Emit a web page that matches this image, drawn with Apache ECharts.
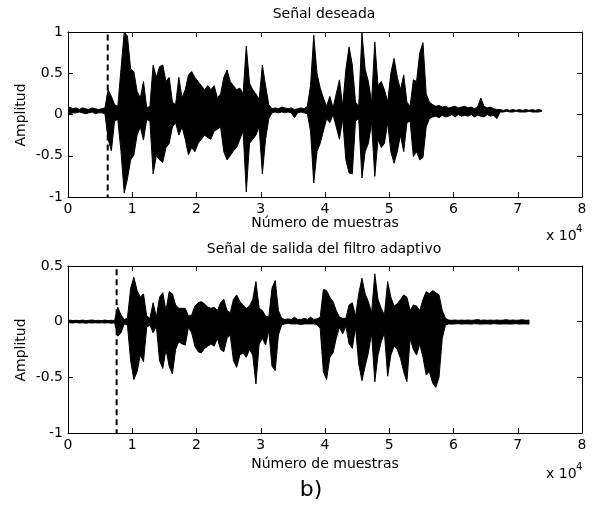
<!DOCTYPE html>
<html>
<head>
<meta charset="utf-8">
<script src="https://cdn.jsdelivr.net/npm/echarts@6/dist/echarts.min.js"></script>
<style>
  html, body { margin: 0; padding: 0; background: #ffffff; }
  #chart { width: 592px; height: 508px; }
</style>
</head>
<body>
<div id="chart"></div>
<script>
// Waveforms are stored as per-bin envelopes: each bin spans 500 samples,
// and holds the highest and lowest amplitude reached inside it.
const binSize = 500;

const xTickValues = [0, 10000, 20000, 30000, 40000, 50000, 60000, 70000, 80000];
const yTicksDesired = [-1, -0.5, 0, 0.5, 1];
const yTicksOutput = [-1, -0.5, 0, 0.5];

// "Señal deseada" envelope
const desiredHigh = [
  0.09, 0.07, 0.08, 0.06, 0.08, 0.07, 0.06, 0.08, 0.07, 0.06,
  0.07, 0.08, 0.30, 0.22, 0.12, 0.10, 0.55, 1.00, 0.95, 0.55,
  0.52, 0.28, 0.20, 0.40, 0.08, 0.10, 0.60, 0.45, 0.58, 0.60,
  0.40, 0.45, 0.15, 0.12, 0.45, 0.20, 0.30, 0.48, 0.52, 0.45,
  0.40, 0.35, 0.30, 0.35, 0.30, 0.35, 0.20, 0.25, 0.45, 0.54,
  0.40, 0.35, 0.30, 0.32, 0.25, 0.83, 0.38, 0.30, 0.25, 0.18,
  0.60, 0.35, 0.12, 0.07, 0.08, 0.07, 0.09, 0.08, 0.07, 0.08,
  0.06, 0.07, 0.08, 0.07, 0.10, 0.35, 0.96, 0.50, 0.32, 0.20,
  0.10, 0.22, 0.08, 0.25, 0.42, 0.10, 0.55, 0.82, 0.60, 0.15,
  0.10, 0.99, 0.55, 0.40, 0.15, 0.88, 0.35, 0.40, 0.30, 0.15,
  0.50, 0.68, 0.45, 0.30, 0.48, 0.15, 0.10, 0.42, 0.40, 0.75,
  0.87, 0.25, 0.15, 0.12, 0.10, 0.11, 0.09, 0.10, 0.08, 0.09,
  0.10, 0.08, 0.09, 0.10, 0.08, 0.09, 0.07, 0.09, 0.20, 0.10,
  0.08, 0.09, 0.07, 0.06, 0.06, 0.05, 0.06, 0.05, 0.06, 0.05,
  0.06, 0.05, 0.06, 0.05, 0.06, 0.05, 0.06, 0.05
];
const desiredLow = [
  0.01, 0.02, 0.02, 0.03, 0.02, 0.01, 0.02, 0.03, 0.01, 0.02,
  0.02, 0.01, -0.30, -0.44, -0.08, -0.06, -0.45, -0.95, -0.78, -0.55,
  -0.49, -0.25, -0.15, -0.31, -0.06, -0.08, -0.72, -0.50, -0.55, -0.58,
  -0.40, -0.35, -0.15, -0.10, -0.25, -0.15, -0.30, -0.49, -0.40, -0.45,
  -0.35, -0.30, -0.25, -0.28, -0.30, -0.20, -0.18, -0.15, -0.45, -0.55,
  -0.50, -0.44, -0.40, -0.30, -0.20, -0.94, -0.35, -0.30, -0.25, -0.15,
  -0.72, -0.30, -0.05, 0.02, 0.03, 0.02, 0.03, 0.02, 0.03, 0.02,
  -0.04, 0.02, 0.03, 0.02, 0.01, -0.20, -0.83, -0.45, -0.35, -0.20,
  -0.05, -0.10, 0.00, -0.15, -0.30, -0.05, -0.55, -0.71, -0.72, -0.08,
  -0.05, -0.77, -0.45, -0.35, -0.10, -0.75, -0.30, -0.40, -0.35, -0.10,
  -0.45, -0.59, -0.45, -0.25, -0.45, -0.10, -0.08, -0.51, -0.45, -0.55,
  -0.52, -0.15, -0.05, -0.03, -0.02, -0.04, -0.01, -0.03, -0.02, 0.00,
  -0.03, 0.00, -0.02, -0.01, -0.02, 0.00, -0.03, -0.01, -0.02, -0.03,
  0.00, -0.02, -0.01, -0.05, 0.03, 0.03, 0.04, 0.03, 0.03, 0.04,
  0.03, 0.03, 0.03, 0.04, 0.03, 0.03, 0.03, 0.04
];

// "Señal de salida del filtro adaptivo" envelope
const outputHigh = [
  0.015, 0.010, 0.012, 0.010, 0.014, 0.010, 0.012, 0.015, 0.010, 0.012,
  0.010, 0.014, 0.010, 0.012, 0.010, 0.13, 0.06, 0.02, 0.03, 0.30,
  0.40, 0.28, 0.22, 0.25, 0.05, 0.03, 0.17, 0.04, 0.22, 0.26,
  0.10, 0.27, 0.25, 0.15, 0.12, 0.12, 0.12, 0.05, 0.06, 0.14,
  0.17, 0.18, 0.16, 0.13, 0.12, 0.13, 0.10, 0.17, 0.20, 0.10,
  0.08, 0.20, 0.24, 0.18, 0.15, 0.12, 0.14, 0.20, 0.36, 0.12,
  0.10, 0.05, 0.04, 0.30, 0.37, 0.10, 0.03, 0.020, 0.025, 0.020,
  0.040, 0.020, 0.020, 0.030, 0.020, 0.040, 0.020, 0.025, 0.04, 0.29,
  0.28, 0.22, 0.18, 0.10, 0.04, 0.03, 0.03, 0.15, 0.17, 0.05,
  0.25, 0.39, 0.25, 0.18, 0.08, 0.43, 0.20, 0.12, 0.06, 0.36,
  0.22, 0.14, 0.16, 0.20, 0.24, 0.22, 0.10, 0.15, 0.14, 0.10,
  0.20, 0.27, 0.25, 0.28, 0.26, 0.24, 0.10, 0.030, 0.015, 0.012,
  0.015, 0.012, 0.014, 0.012, 0.015, 0.012, 0.014, 0.020, 0.012, 0.015,
  0.012, 0.014, 0.012, 0.015, 0.012, 0.014, 0.018, 0.012, 0.015, 0.012,
  0.014, 0.018, 0.012, 0.014
];
const outputLow = [
  -0.010, -0.012, -0.008, -0.012, -0.010, -0.014, -0.010, -0.012, -0.010, -0.012,
  -0.010, -0.012, -0.010, -0.014, -0.010, -0.13, -0.10, -0.02, -0.03, -0.35,
  -0.52, -0.45, -0.30, -0.36, -0.05, -0.03, -0.10, -0.04, -0.35, -0.42,
  -0.25, -0.40, -0.47, -0.25, -0.18, -0.20, -0.21, -0.05, -0.10, -0.22,
  -0.27, -0.28, -0.24, -0.22, -0.20, -0.22, -0.15, -0.25, -0.27, -0.15,
  -0.12, -0.35, -0.41, -0.30, -0.28, -0.32, -0.25, -0.30, -0.56, -0.20,
  -0.15, -0.21, -0.08, -0.40, -0.44, -0.12, -0.03, -0.020, -0.015, -0.020,
  -0.020, -0.020, -0.025, -0.020, -0.020, -0.020, -0.020, -0.025, -0.06, -0.45,
  -0.52, -0.32, -0.28, -0.15, -0.05, -0.11, -0.04, -0.20, -0.24, -0.05,
  -0.38, -0.53, -0.40, -0.28, -0.10, -0.54, -0.30, -0.18, -0.10, -0.49,
  -0.30, -0.22, -0.25, -0.33, -0.45, -0.54, -0.15, -0.25, -0.30, -0.20,
  -0.32, -0.48, -0.45, -0.55, -0.59, -0.50, -0.15, -0.030, -0.020, -0.022,
  -0.020, -0.018, -0.022, -0.020, -0.020, -0.022, -0.018, -0.020, -0.022, -0.020,
  -0.020, -0.022, -0.018, -0.020, -0.022, -0.020, -0.020, -0.022, -0.020, -0.018,
  -0.022, -0.020, -0.020, -0.022
];

// Dashed vertical markers: sample position and vertical extent
const markerX = [6180, 7570];
const markerTop = [0.97, 0.47];
const markerBottom = [-1, -1];

const FONT = 'DejaVu Sans';
const chart = echarts.init(document.getElementById('chart'), null, { renderer: 'canvas' });

// The envelope is drawn as one closed outline: upper edge left to right,
// then lower edge right to left, each point placed through the axis scales.
function envelopeSeries(high, low, axisIndex) {
  const rows = high.map((v, i) => [(i + 0.5) * binSize, v, low[i]]);
  return {
    type: 'custom',
    xAxisIndex: axisIndex,
    yAxisIndex: axisIndex,
    silent: true,
    animation: false,
    clip: true,
    encode: { x: 0, y: [1, 2] },
    data: rows,
    renderItem: function (params, api) {
      if (params.dataIndex !== 0) return null;
      const upper = rows.map(r => api.coord([r[0], r[1]]));
      const lower = rows.map(r => api.coord([r[0], r[2]])).reverse();
      return {
        type: 'polygon',
        shape: { points: upper.concat(lower) },
        style: { fill: '#000', stroke: '#000', lineWidth: 1, lineJoin: 'miter' }
      };
    }
  };
}

function markerSeries(k, axisIndex) {
  return {
    type: 'line',
    xAxisIndex: axisIndex,
    yAxisIndex: axisIndex,
    symbol: 'none',
    silent: true,
    animation: false,
    data: [[markerX[k], markerTop[k]], [markerX[k], markerBottom[k]]],
    lineStyle: { color: '#000', width: 2, type: [6, 4] }
  };
}

const tickStyle = { show: true, inside: true, length: 5, lineStyle: { color: '#000', width: 1 } };
const lineStyle = { show: true, onZero: false, lineStyle: { color: '#000', width: 1 } };
const labelFont = { color: '#000', fontFamily: FONT, fontSize: 14 };

function xAxes(gridIndex) {
  return [
    {
      type: 'value', gridIndex, position: 'bottom',
      min: xTickValues[0], max: xTickValues[xTickValues.length - 1], interval: 10000,
      axisLine: lineStyle, axisTick: tickStyle, splitLine: { show: false },
      axisLabel: Object.assign({ margin: 5, formatter: v => String(v / 10000) }, labelFont)
    },
    {
      type: 'value', gridIndex, position: 'top',
      min: xTickValues[0], max: xTickValues[xTickValues.length - 1], interval: 10000,
      axisLine: lineStyle, axisTick: tickStyle, splitLine: { show: false },
      axisLabel: { show: false }
    }
  ];
}

function yAxes(gridIndex, ticks) {
  const min = ticks[0], max = ticks[ticks.length - 1];
  return [
    {
      type: 'value', gridIndex, position: 'left', min, max, interval: 0.5,
      axisLine: lineStyle, axisTick: tickStyle, splitLine: { show: false },
      axisLabel: Object.assign({ margin: 5 }, labelFont)
    },
    {
      type: 'value', gridIndex, position: 'right', min, max, interval: 0.5,
      axisLine: lineStyle, axisTick: tickStyle, splitLine: { show: false },
      axisLabel: { show: false }
    }
  ];
}

function text(str, x, y, opts) {
  return Object.assign({
    type: 'text', x, y, silent: true,
    style: Object.assign({
      text: str, fill: '#000', font: '14px "' + FONT + '"',
      textAlign: 'center', textVerticalAlign: 'middle'
    }, (opts && opts.style) || {})
  }, opts && opts.rotation ? { rotation: opts.rotation } : {});
}

const option = {
  backgroundColor: '#ffffff',
  animation: false,
  grid: [
    { left: 68, top: 32, width: 514, height: 165, containLabel: false },
    { left: 68, top: 266, width: 514, height: 167, containLabel: false }
  ],
  xAxis: xAxes(0).concat(xAxes(1)),
  yAxis: yAxes(0, yTicksDesired).concat(yAxes(1, yTicksOutput)),
  series: [
    envelopeSeries(desiredHigh, desiredLow, 0),
    envelopeSeries(outputHigh, outputLow, 2),
    markerSeries(0, 0),
    markerSeries(1, 2)
  ],
  graphic: [
    text('Señal deseada', 324, 14),
    text('Número de muestras', 325, 223),
    text('Amplitud', 21, 115, { rotation: Math.PI / 2 }),
    text('x 10', 546, 236, { style: { textAlign: 'left' } }),
    text('4', 576, 229, { style: { textAlign: 'left', font: '10px "' + FONT + '"' } }),
    text('Señal de salida del filtro adaptivo', 324, 249),
    text('Número de muestras', 325, 464),
    text('Amplitud', 21, 350, { rotation: Math.PI / 2 }),
    text('x 10', 546, 474, { style: { textAlign: 'left' } }),
    text('4', 576, 467, { style: { textAlign: 'left', font: '10px "' + FONT + '"' } }),
    text('b)', 311, 490, { style: { font: '22px "' + FONT + '"' } })
  ]
};

chart.setOption(option);
</script>
</body>
</html>
